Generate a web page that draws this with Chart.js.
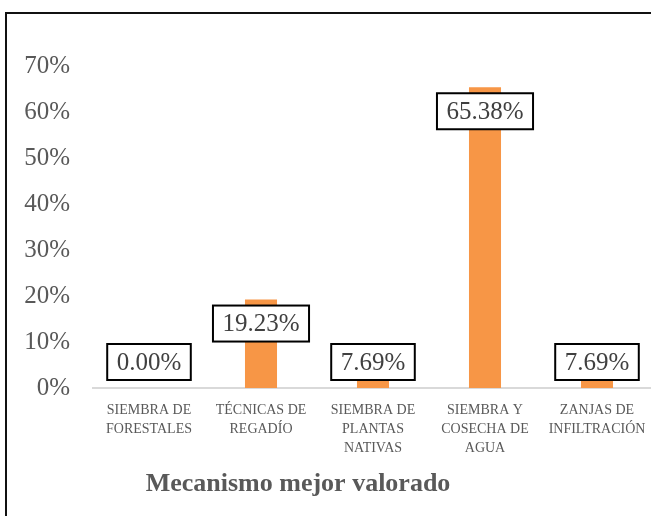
<!DOCTYPE html>
<html>
<head>
<meta charset="utf-8">
<script src="https://cdn.jsdelivr.net/npm/chart.js@4"></script>
<style>
  html, body { margin: 0; padding: 0; background: #fff; overflow: hidden; width: 651px; height: 516px; }
  #marco { position: absolute; left: 5px; top: 12px; width: 800px; height: 600px; border: 2px solid #111; }
  #grafico { position: absolute; left: 0; top: 0; }
</style>
</head>
<body>
<div id="marco"></div>
<canvas id="grafico" width="700" height="516"></canvas>
<script>
// Categorías (cada una en varias líneas como en el original)
const categorias = [
  ["SIEMBRA DE", "FORESTALES"],
  ["TÉCNICAS DE", "REGADÍO"],
  ["SIEMBRA DE", "PLANTAS", "NATIVAS"],
  ["SIEMBRA Y", "COSECHA DE", "AGUA"],
  ["ZANJAS DE", "INFILTRACIÓN"]
];
// Porcentajes de cada mecanismo
const valores = [0.00, 19.23, 7.69, 65.38, 7.69];
// Marcas del eje Y
const ejeY = { min: 0, max: 70, paso: 10 };
const tituloEje = "Mecanismo mejor valorado";

const FUENTE = "'Liberation Serif', 'Times New Roman', serif";
const GRIS = "#595959";

// Etiquetas con recuadro sobre cada barra
const etiquetasBarras = {
  id: "etiquetasBarras",
  afterDatasetsDraw(chart) {
    const ctx = chart.ctx;
    const meta = chart.getDatasetMeta(0);
    const base = chart.scales.y.getPixelForValue(0);
    ctx.save();
    ctx.font = "25px " + FUENTE;
    ctx.textAlign = "center";
    ctx.textBaseline = "middle";
    meta.data.forEach((bar, i) => {
      const texto = valores[i].toFixed(2) + "%";
      const ancho = ctx.measureText(texto).width + 19;
      const alto = 36;
      const cy = Math.min(bar.y + 24, base - 26);
      ctx.fillStyle = "#fff";
      ctx.fillRect(bar.x - ancho / 2, cy - alto / 2, ancho, alto);
      ctx.strokeStyle = "#000";
      ctx.lineWidth = 2;
      ctx.strokeRect(bar.x - ancho / 2, cy - alto / 2, ancho, alto);
      ctx.fillStyle = "#404040";
      ctx.fillText(texto, bar.x, cy + 1);
    });
    ctx.restore();
  }
};

// Título del eje X (desplazado a la izquierda como en el original)
const tituloX = {
  id: "tituloX",
  afterDraw(chart) {
    const ctx = chart.ctx;
    ctx.save();
    ctx.font = "bold 26px " + FUENTE;
    ctx.fillStyle = GRIS;
    ctx.textAlign = "center";
    ctx.textBaseline = "middle";
    ctx.fillText(tituloEje, 298, 484);
    ctx.restore();
  }
};

new Chart(document.getElementById("grafico"), {
  type: "bar",
  data: {
    labels: categorias,
    datasets: [{
      data: valores,
      backgroundColor: "#f79646",
      borderWidth: 0,
      barPercentage: 0.286,
      categoryPercentage: 1
    }]
  },
  options: {
    responsive: false,
    animation: false,
    layout: { padding: { top: 66, right: 47, left: 0, bottom: 0 } },
    plugins: { legend: { display: false }, tooltip: { enabled: false } },
    scales: {
      x: {
        grid: { display: false, drawTicks: false },
        border: { display: true, color: "#d9d9d9", width: 2 },
        ticks: {
          color: GRIS,
          font: { family: FUENTE, size: 14, lineHeight: 1.35 },
          padding: 13,
          maxRotation: 0,
          autoSkip: false
        },
        afterFit(scale) { scale.height = 128; }
      },
      y: {
        min: ejeY.min,
        max: ejeY.max,
        grid: { display: false, drawTicks: false },
        border: { display: false },
        ticks: {
          stepSize: ejeY.paso,
          color: GRIS,
          font: { family: FUENTE, size: 25 },
          padding: 23,
          callback: (v) => v + "%"
        },
        afterFit(scale) { scale.width = 93; }
      }
    }
  },
  plugins: [etiquetasBarras, tituloX]
});
</script>
</body>
</html>
